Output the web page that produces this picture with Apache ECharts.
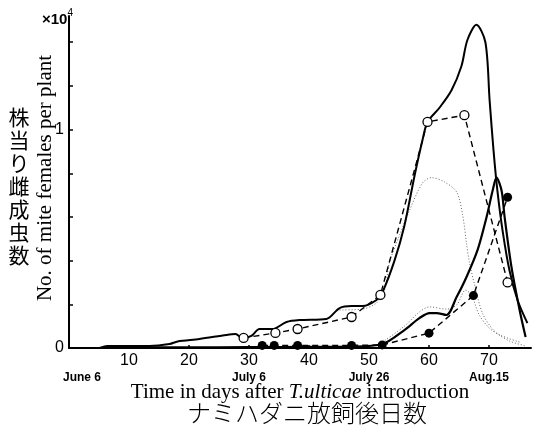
<!DOCTYPE html>
<html>
<head>
<meta charset="utf-8">
<script src="https://cdn.jsdelivr.net/npm/echarts@6/dist/echarts.min.js"></script>
<style>
  html, body { margin: 0; padding: 0; background: #fff; }
  #chart { width: 534px; height: 428px; }
</style>
</head>
<body>
<div id="chart"></div>
<script>
// Days after release, female counts per plant in units of 10^4.

// Total population curve (solid)
const totalDays = [5.1, 6.4, 10.1, 13.4, 16.75, 18.1, 21.75, 26.25, 27.75, 28.9, 30.4, 31.75, 33.9, 36.25, 38.4, 42.9, 45.1, 47.1, 48.9, 51.25, 52.25, 54.25, 55.9, 57.6, 58.9, 59.75, 61.75, 63.75, 65.4, 66.4, 67.9, 69.4, 70.1, 70.75, 71.4, 72.25, 73.4, 74.75, 76.4];
const totalVals = [0, 0.009, 0.009, 0.009, 0.018, 0.03, 0.041, 0.06, 0.064, 0.046, 0.055, 0.087, 0.087, 0.119, 0.128, 0.133, 0.183, 0.192, 0.192, 0.22, 0.256, 0.40, 0.56, 0.79, 0.95, 1.035, 1.10, 1.18, 1.29, 1.41, 1.48, 1.40, 1.135, 0.906, 0.72, 0.54, 0.357, 0.22, 0.114];

// Second population curve (solid, late peak)
const lateDays = [6, 20, 30, 40, 47, 52.25, 55.9, 58.4, 60.1, 61.25, 62.9, 64.6, 66.25, 68.1, 69.6, 70.6, 71.25, 72.1, 72.6, 73.75, 75.1, 76.1];
const lateVals = [0.003, 0.003, 0.004, 0.005, 0.006, 0.018, 0.082, 0.137, 0.16, 0.16, 0.151, 0.233, 0.325, 0.449, 0.60, 0.72, 0.78, 0.72, 0.60, 0.37, 0.174, 0.05];

// Observed counts, open circles (dashed)
const openDays = [29.1, 34.4, 38.1, 47.1, 51.9, 59.75, 65.9, 73.1];
const openVals = [0.046, 0.069, 0.087, 0.142, 0.243, 1.035, 1.066, 0.30];

// Observed counts, filled circles (dashed)
const filledDays = [32.2, 34.2, 38.1, 47.1, 52.2, 60, 67.4, 73.1];
const filledVals = [0.012, 0.012, 0.012, 0.012, 0.014, 0.068, 0.24, 0.69];

// Dotted curves
const dotADays = [45.1, 48.9, 51.25, 52.6, 53.4, 55.1, 56.75, 58.9, 60.4, 62.6, 64.6, 65.6, 66.25, 66.75, 67.6, 68.9, 70.75, 73.4, 76.25];
const dotAVals = [0.174, 0.178, 0.206, 0.265, 0.39, 0.517, 0.63, 0.755, 0.78, 0.76, 0.714, 0.61, 0.48, 0.39, 0.29, 0.16, 0.082, 0.032, 0.009];
const dotBDays = [52.25, 55.9, 58.4, 60.1, 62.9, 64.6, 66.1, 67.1, 68.4, 70.1, 71.75, 75.1];
const dotBVals = [0.027, 0.10, 0.165, 0.188, 0.178, 0.197, 0.265, 0.24, 0.15, 0.09, 0.06, 0.027];

// Axis labels
const dateTicks = [0, 30, 50, 70];
const dateLabels = ['June 6', 'July 6', 'July 26', 'Aug.15'];
const yLabelValues = [0, 1];

const pairs = (xs, ys) => xs.map((x, i) => [x, ys[i]]);

const serif = '"Liberation Serif", "DejaVu Serif", serif';
const sans = '"Liberation Sans", Arial, sans-serif';
const cjk = '"Noto Sans CJK JP", sans-serif';

const chart = echarts.init(document.getElementById('chart'), null, { renderer: 'canvas' });

chart.setOption({
  animation: false,
  backgroundColor: '#fff',
  grid: { left: 69, right: 3, top: 16, bottom: 80, containLabel: false },
  xAxis: [
    {
      type: 'value', min: 0, max: 77, interval: 10,
      axisLine: { lineStyle: { color: '#000', width: 2 } },
      axisTick: { show: true, inside: true, length: 3, lineStyle: { color: '#000', width: 1.5 } },
      splitLine: { show: false },
      axisLabel: {
        color: '#000', fontFamily: sans, fontSize: 16, margin: 5,
        showMaxLabel: false,
        formatter: v => (v === 0 ? '' : String(v))
      }
    },
    {
      type: 'value', min: 0, max: 77, position: 'bottom',
      axisLine: { show: false },
      axisTick: { show: false },
      splitLine: { show: false },
      axisLabel: {
        customValues: dateTicks,
        margin: 24,
        color: '#000',
        fontFamily: '"Liberation Sans Narrow", "Liberation Sans", sans-serif',
        fontWeight: 'bold', fontSize: 12,
        formatter: v => {
          const i = dateTicks.indexOf(v);
          if (i < 0) return '';
          return i === 0 ? '{first|' + dateLabels[i] + '}' : dateLabels[i];
        },
        rich: {
          first: {
            padding: [0, 0, 0, 26],
            fontFamily: '"Liberation Sans Narrow", "Liberation Sans", sans-serif',
            fontWeight: 'bold', fontSize: 12, color: '#000'
          }
        }
      }
    }
  ],
  yAxis: {
    type: 'value', min: 0, max: 1.52, interval: 0.2,
    axisLine: { show: true, lineStyle: { color: '#000', width: 2 } },
    axisTick: { show: true, inside: true, length: 4, lineStyle: { color: '#000', width: 1.5 } },
    splitLine: { show: false },
    axisLabel: {
      color: '#000', fontFamily: sans, fontSize: 16, margin: 5,
      showMaxLabel: false,
      formatter: v => (yLabelValues.some(t => Math.abs(t - v) < 1e-6) ? String(Math.round(v)) : '')
    }
  },
  series: [
    {
      type: 'line', name: 'dotA', data: pairs(dotADays, dotAVals),
      smooth: 0.3, showSymbol: false, z: 2,
      lineStyle: { color: '#666', width: 1, type: [1, 2] }
    },
    {
      type: 'line', name: 'dotB', data: pairs(dotBDays, dotBVals),
      smooth: 0.3, showSymbol: false, z: 2,
      lineStyle: { color: '#666', width: 1, type: [1, 2] }
    },
    {
      type: 'line', name: 'total', data: pairs(totalDays, totalVals),
      smooth: 0.3, showSymbol: false, z: 3,
      lineStyle: { color: '#000', width: 2 }
    },
    {
      type: 'line', name: 'late', data: pairs(lateDays, lateVals),
      smooth: 0.3, showSymbol: false, z: 3,
      lineStyle: { color: '#000', width: 2.2 }
    },
    {
      type: 'line', name: 'open', data: pairs(openDays, openVals),
      smooth: false, symbol: 'circle', symbolSize: 9, z: 4,
      lineStyle: { color: '#000', width: 1.4, type: [6, 4] },
      itemStyle: { color: '#fff', borderColor: '#000', borderWidth: 1.3 }
    },
    {
      type: 'line', name: 'filled', data: pairs(filledDays, filledVals),
      smooth: false, symbol: 'circle', symbolSize: 9, z: 4,
      lineStyle: { color: '#000', width: 1.4, type: [6, 4] },
      itemStyle: { color: '#000', borderColor: '#000', borderWidth: 0 }
    }
  ],
  graphic: [
    {
      type: 'text', left: 42, top: 8,
      style: {
        text: '{a|×10}{s|4}',
        rich: {
          a: { fontFamily: sans, fontWeight: 'bold', fontSize: 15, fill: '#000', verticalAlign: 'bottom' },
          s: { fontFamily: sans, fontSize: 10, fill: '#000', verticalAlign: 'top', padding: [0, 0, 9, 0] }
        }
      }
    },
    {
      type: 'text', x: 45, y: 178, rotation: Math.PI / 2,
      style: {
        text: 'No. of mite females per plant',
        fontFamily: serif, fontSize: 21, fill: '#000',
        align: 'center', verticalAlign: 'middle'
      }
    },
    {
      type: 'text', x: 19, y: 186,
      style: {
        text: '株\n当\nり\n雌\n成\n虫\n数',
        fontFamily: cjk, fontSize: 21, lineHeight: 23, fill: '#000',
        align: 'center', verticalAlign: 'middle'
      }
    },
    {
      type: 'text', x: 300, y: 392,
      style: {
        text: '{a|Time in days after }{i|T.ulticae}{a| introduction}',
        align: 'center', verticalAlign: 'middle',
        rich: {
          a: { fontFamily: serif, fontSize: 21, fill: '#000' },
          i: { fontFamily: serif, fontSize: 21, fontStyle: 'italic', fill: '#000' }
        }
      }
    },
    {
      type: 'text', x: 307, y: 413,
      style: {
        text: 'ナミハダニ放飼後日数',
        fontFamily: cjk, fontSize: 24, fontWeight: 300, fill: '#000',
        align: 'center', verticalAlign: 'middle'
      }
    }
  ]
});
</script>
</body>
</html>
